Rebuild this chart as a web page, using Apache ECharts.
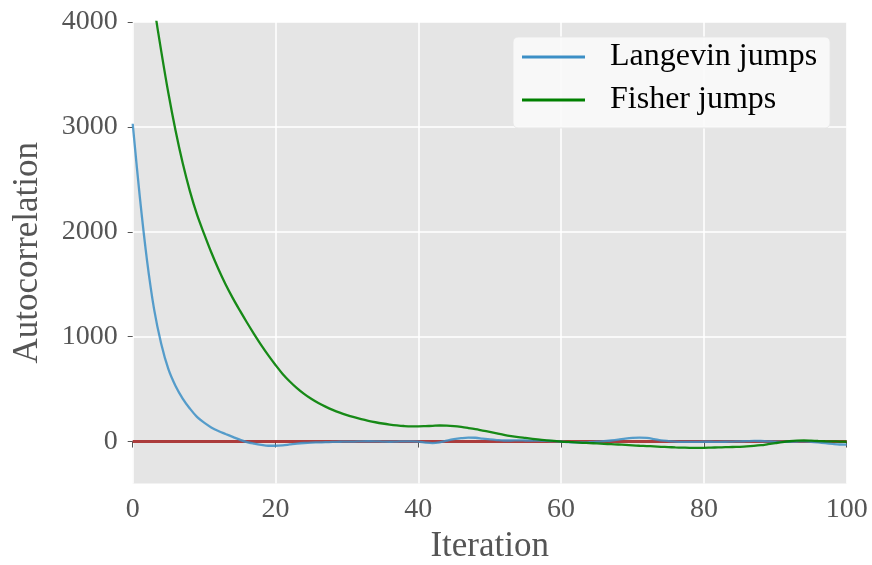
<!DOCTYPE html>
<html>
<head>
<meta charset="utf-8">
<script src="https://cdn.jsdelivr.net/npm/echarts@6/dist/echarts.min.js"></script>
<style>
  html, body { margin: 0; padding: 0; background: #ffffff; }
  #chart { width: 872px; height: 565px; }
</style>
</head>
<body>
<div id="chart"></div>
<script>
// Autocorrelation at iterations 0..100 (index = iteration)
var langevin = [
  3030, 2330, 1730, 1260, 930, 690, 530, 410, 315, 235,
  180, 135, 100, 72, 45, 18, -5, -20, -32, -40,
  -40, -36, -28, -20, -14, -10, -8, -6, -4, -2,
  0, 0, 2, 3, 2, 0, -2, 0, 2, 2,
  0, -10, -15, -8, 8, 22, 32, 38, 36, 28,
  20, 14, 10, 10, 12, 10, 8, 8, 6, 4,
  0, -5, -8, -9, -6, -2, 4, 10, 18, 28,
  35, 38, 34, 24, 12, 5, 0, -3, -4, -3,
  -2, -2, -3, -2, 0, 2, 4, 6, 5, 2,
  -2, -3, -2, 0, 2, -2, -8, -15, -22, -28,
  -30
];
var fisher = [
  5690, 5130, 4620, 4150, 3720, 3320, 2965, 2655, 2390, 2165,
  1980, 1805, 1645, 1500, 1370, 1250, 1135, 1025, 920, 822,
  730, 645, 573, 510, 455, 408, 368, 333, 302, 275,
  252, 232, 214, 198, 184, 172, 162, 154, 148, 145,
  145, 147, 150, 153, 152, 147, 139, 129, 118, 105,
  92, 78, 64, 52, 42, 34, 26, 18, 12, 6,
  0, -4, -8, -12, -15, -18, -22, -25, -28, -32,
  -36, -40, -43, -46, -50, -53, -56, -58, -60, -60,
  -60, -58, -56, -54, -52, -50, -47, -42, -35, -25,
  -15, -5, 3, 8, 10, 8, 5, 3, 2, 0,
  -2
];
var zeroLine = [[0, 0], [100, 0]];
var yTicks = [0, 1000, 2000, 3000, 4000];
var xTicks = [0, 20, 40, 60, 80, 100];

function pairs(arr) {
  return arr.map(function (v, i) { return [i, v]; });
}

var FONT = '"Liberation Serif", "DejaVu Serif", serif';
var chart = echarts.init(document.getElementById('chart'), null, { renderer: 'canvas' });

chart.setOption({
  animation: false,
  backgroundColor: '#ffffff',
  grid: {
    left: 132.7, right: 25.3, top: 22, bottom: 81.5,
    outerBoundsMode: 'none',
    containLabel: false,
    show: true, backgroundColor: '#E5E5E5', borderWidth: 0
  },
  legend: {
    left: 513, top: 37,
    orient: 'vertical',
    icon: 'rect',
    itemWidth: 63, itemHeight: 3,
    itemGap: 5,
    padding: [1, 13, 9, 9],
    backgroundColor: 'rgba(250,250,250,0.9)',
    borderColor: 'rgba(230,230,230,0.9)',
    borderWidth: 1,
    borderRadius: 5,
    textStyle: { fontFamily: FONT, fontSize: 32, color: '#000', lineHeight: 38, padding: [0, 0, 0, 20] },
    data: ['Langevin jumps', 'Fisher jumps']
  },
  xAxis: {
    type: 'value', min: 0, max: 100, interval: 20,
    offset: 3,
    name: 'Iteration', nameLocation: 'middle', nameGap: 43,
    nameTextStyle: { fontFamily: FONT, fontSize: 35, color: '#555' },
    axisLine: { show: false },
    axisTick: { show: true, length: 6, lineStyle: { color: '#555', width: 1 } },
    axisLabel: { fontFamily: FONT, fontSize: 28, color: '#555', margin: 9, customValues: xTicks },
    splitLine: { show: true, lineStyle: { color: '#ffffff', width: 1.5 } }
  },
  yAxis: {
    type: 'value', min: -400, max: 4000, splitNumber: 4,
    offset: 3,
    name: 'Autocorrelation', nameLocation: 'middle', nameGap: 84, nameRotate: 90,
    nameTextStyle: { fontFamily: FONT, fontSize: 35, color: '#555' },
    axisLine: { show: false },
    axisTick: { show: true, length: 5, lineStyle: { color: '#555', width: 1 }, customValues: yTicks },
    axisLabel: {
      fontFamily: FONT, fontSize: 28, color: '#555', margin: 12, customValues: yTicks,
      formatter: function (v) { return String(v); }
    },
    splitLine: { show: true, lineStyle: { color: '#ffffff', width: 1.5 } }
  },
  series: [
    {
      name: 'zero', type: 'line', data: zeroLine, showSymbol: false, symbol: 'none',
      lineStyle: { color: '#A83232', width: 3, opacity: 0.95 }, z: 2, silent: true
    },
    {
      name: 'Langevin jumps', type: 'line', data: pairs(langevin), showSymbol: false, symbol: 'none',
      smooth: 0.35,
      color: '#3C8FC6', lineStyle: { color: '#3C8FC6', width: 2.3, opacity: 0.85 }, z: 3
    },
    {
      name: 'Fisher jumps', type: 'line', data: pairs(fisher), showSymbol: false, symbol: 'none',
      smooth: 0.35,
      color: '#008000', lineStyle: { color: '#008000', width: 2.3, opacity: 0.9 }, z: 4
    }
  ]
});
</script>
</body>
</html>
